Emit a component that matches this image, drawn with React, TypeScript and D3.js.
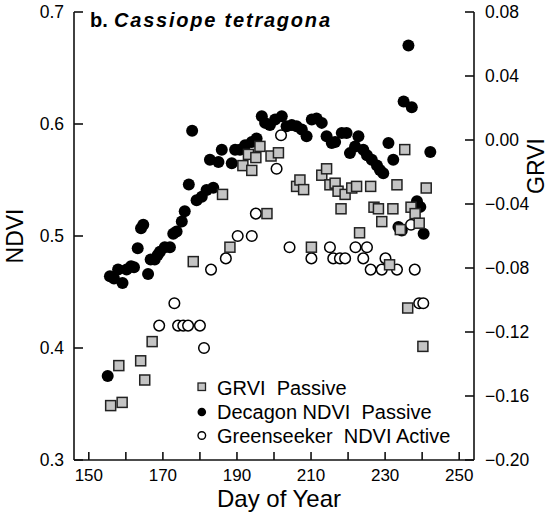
import React from 'react';
import * as d3 from 'd3';

// Decagon NDVI (passive), left axis
const decagonDay = [155.1, 155.7, 156.8, 157.9, 159.1, 160.2, 161.4, 162.2, 163.2, 164.1, 164.7, 166.0, 166.7, 167.8, 168.6, 169.2, 170.5, 171.9, 172.8, 173.7, 175.1, 175.9, 177.0, 177.9, 179.1, 180.5, 181.8, 182.7, 183.6, 185.0, 185.9, 188.6, 189.5, 190.8, 192.2, 194.0, 195.3, 196.7, 197.6, 198.9, 200.3, 202.1, 203.4, 204.8, 206.1, 207.5, 208.8, 210.2, 211.5, 212.9, 214.2, 215.6, 216.5, 218.3, 219.6, 220.5, 221.9, 222.8, 224.1, 225.1, 226.4, 227.8, 228.6, 229.5, 230.9, 232.2, 233.6, 234.5, 235.0, 236.3, 237.2, 238.6, 239.5, 240.4, 242.2];
const decagonNdvi = [0.375, 0.464, 0.462, 0.470, 0.458, 0.470, 0.473, 0.472, 0.489, 0.507, 0.510, 0.466, 0.479, 0.479, 0.483, 0.486, 0.490, 0.490, 0.502, 0.504, 0.513, 0.522, 0.546, 0.594, 0.532, 0.535, 0.541, 0.568, 0.543, 0.566, 0.577, 0.565, 0.577, 0.577, 0.581, 0.584, 0.587, 0.607, 0.601, 0.599, 0.604, 0.607, 0.598, 0.599, 0.598, 0.595, 0.589, 0.604, 0.605, 0.601, 0.589, 0.583, 0.584, 0.592, 0.592, 0.574, 0.580, 0.589, 0.577, 0.572, 0.568, 0.563, 0.559, 0.556, 0.583, 0.568, 0.508, 0.505, 0.620, 0.670, 0.615, 0.531, 0.526, 0.502, 0.575];

// GRVI (passive), right axis
const grviDay = [155.9, 158.1, 159.0, 164.0, 165.1, 167.1, 178.2, 186.1, 188.1, 191.6, 193.1, 194.0, 195.1, 196.2, 198.1, 199.2, 201.2, 206.1, 207.0, 208.0, 210.1, 212.9, 214.2, 215.1, 216.5, 217.3, 218.1, 219.2, 221.0, 222.3, 223.1, 226.1, 227.0, 228.2, 229.1, 231.2, 232.1, 233.2, 234.1, 235.3, 236.1, 237.0, 238.1, 239.2, 240.2, 241.1];
const grviValue = [-0.166, -0.141, -0.164, -0.138, -0.150, -0.126, -0.076, -0.034, -0.067, -0.016, -0.009, -0.019, -0.011, -0.004, -0.046, -0.010, -0.008, -0.029, -0.025, -0.031, -0.067, -0.022, -0.018, -0.028, -0.027, -0.032, -0.043, -0.034, -0.030, -0.029, -0.058, -0.029, -0.042, -0.043, -0.051, -0.078, -0.043, -0.028, -0.056, -0.006, -0.105, -0.042, -0.046, -0.052, -0.129, -0.030];

// Greenseeker NDVI (active), left axis
const gsDay = [169.0, 173.1, 174.1, 175.5, 176.8, 180.0, 181.1, 183.0, 187.0, 190.2, 194.0, 195.1, 200.7, 201.9, 204.2, 210.1, 215.1, 216.0, 217.8, 219.2, 222.0, 224.1, 225.1, 226.1, 229.1, 230.1, 233.2, 237.0, 238.0, 239.2, 240.3];
const gsNdvi = [0.42, 0.44, 0.42, 0.42, 0.42, 0.42, 0.40, 0.47, 0.48, 0.50, 0.50, 0.52, 0.56, 0.59, 0.49, 0.48, 0.49, 0.48, 0.48, 0.48, 0.49, 0.48, 0.49, 0.47, 0.47, 0.48, 0.47, 0.51, 0.47, 0.44, 0.44];

const xTicks = [150, 160, 170, 180, 190, 200, 210, 220, 230, 240, 250];
const xLabels = [150, 170, 190, 210, 230, 250];
const ndviTicks = [0.3, 0.4, 0.5, 0.6, 0.7];
const grviTicks = [-0.2, -0.16, -0.12, -0.08, -0.04, 0, 0.04, 0.08];

const legendItems = ['GRVI  Passive', 'Decagon NDVI  Passive', 'Greenseeker  NDVI Active'];

const FONT = 'Liberation Sans, Arial, sans-serif';

const App: React.FC = () => {
  const width = 550;
  const height = 513;
  const left = 74, right = 474, top = 12, bottom = 460;

  const x = d3.scaleLinear().domain([146, 254]).range([left, right]);
  const yL = d3.scaleLinear().domain([0.3, 0.7]).range([bottom, top]);
  const yR = d3.scaleLinear().domain([-0.2, 0.08]).range([bottom, top]);

  const fmtR = (v: number) => {
    const s = Math.abs(v).toFixed(2);
    return v < -1e-9 ? '\u2212' + s : s;
  };

  return (
    <svg width={width} height={height} style={{ position: 'absolute', left: 0, top: 0, background: '#fff' }}>
      {/* axes */}
      <g stroke="#111" strokeWidth={1.6} fill="none">
        <line x1={left} y1={top} x2={left} y2={bottom} />
        <line x1={right} y1={top} x2={right} y2={bottom} />
        <line x1={left} y1={bottom} x2={right} y2={bottom} />
        {ndviTicks.map(t => (
          <line key={'l' + t} x1={left} x2={left + 9} y1={yL(t)} y2={yL(t)} />
        ))}
        {grviTicks.map(t => (
          <line key={'r' + t} x1={right - 9} x2={right} y1={yR(t)} y2={yR(t)} />
        ))}
        {xTicks.map(t => (
          <line key={'b' + t} x1={x(t)} x2={x(t)} y1={bottom} y2={bottom - 8} />
        ))}
      </g>

      {/* tick labels */}
      {ndviTicks.map(t => (
        <text key={'lt' + t} x={64} y={yL(t)} dy="0.36em" textAnchor="end" fontFamily={FONT} fontSize={17.5}>{t.toFixed(1)}</text>
      ))}
      {grviTicks.map(t => (
        <text key={'rt' + t} x={485} y={yR(t)} dy="0.36em" textAnchor="start" fontFamily={FONT} fontSize={17.5}>{fmtR(t)}</text>
      ))}
      {xLabels.map(t => (
        <text key={'bt' + t} x={x(t)} y={480.5} textAnchor="middle" fontFamily={FONT} fontSize={17}>{t}</text>
      ))}

      {/* axis titles */}
      <text x={279} y={507} textAnchor="middle" fontFamily={FONT} fontSize={24}>Day of Year</text>
      <text transform="translate(23,236) rotate(-90)" textAnchor="middle" fontFamily={FONT} fontSize={23}>NDVI</text>
      <text transform="translate(544,166) rotate(-90)" textAnchor="middle" fontFamily={FONT} fontSize={23}>GRVI</text>

      {/* title */}
      <text x={90} y={27} fontFamily={FONT} fontSize={20} fontWeight="bold">b.</text>
      <text x={114} y={27} fontFamily={FONT} fontSize={20} fontWeight="bold" fontStyle="italic"
        textLength={216} lengthAdjust="spacing">Cassiope tetragona</text>

      {/* Decagon NDVI */}
      {decagonDay.map((d, i) => (
        <circle key={'dc' + i} cx={x(d)} cy={yL(decagonNdvi[i])} r={6} fill="#000" />
      ))}

      {/* Greenseeker NDVI */}
      {gsDay.map((d, i) => (
        <circle key={'gs' + i} cx={x(d)} cy={yL(gsNdvi[i])} r={5.3} fill="#fff" stroke="#000" strokeWidth={1.5} />
      ))}

      {/* GRVI */}
      {grviDay.map((d, i) => (
        <rect key={'gr' + i} x={x(d) - 5} y={yR(grviValue[i]) - 5} width={10} height={10} fill="#c4c4c4" stroke="#222" strokeWidth={1.5} />
      ))}

      {/* legend */}
      <g>
        <rect x={198} y={383} width={7.5} height={7.5} fill="#c4c4c4" stroke="#222" strokeWidth={1.3} />
        <circle cx={201.8} cy={412} r={4.3} fill="#000" />
        <circle cx={201.8} cy={435.5} r={3.8} fill="#fff" stroke="#000" strokeWidth={1.4} />
        {legendItems.map((t, i) => (
          <text key={t} x={217} y={395 + i * 24} fontFamily={FONT} fontSize={20} style={{ whiteSpace: 'pre' }}>{t}</text>
        ))}
      </g>
    </svg>
  );
};

export default App;
